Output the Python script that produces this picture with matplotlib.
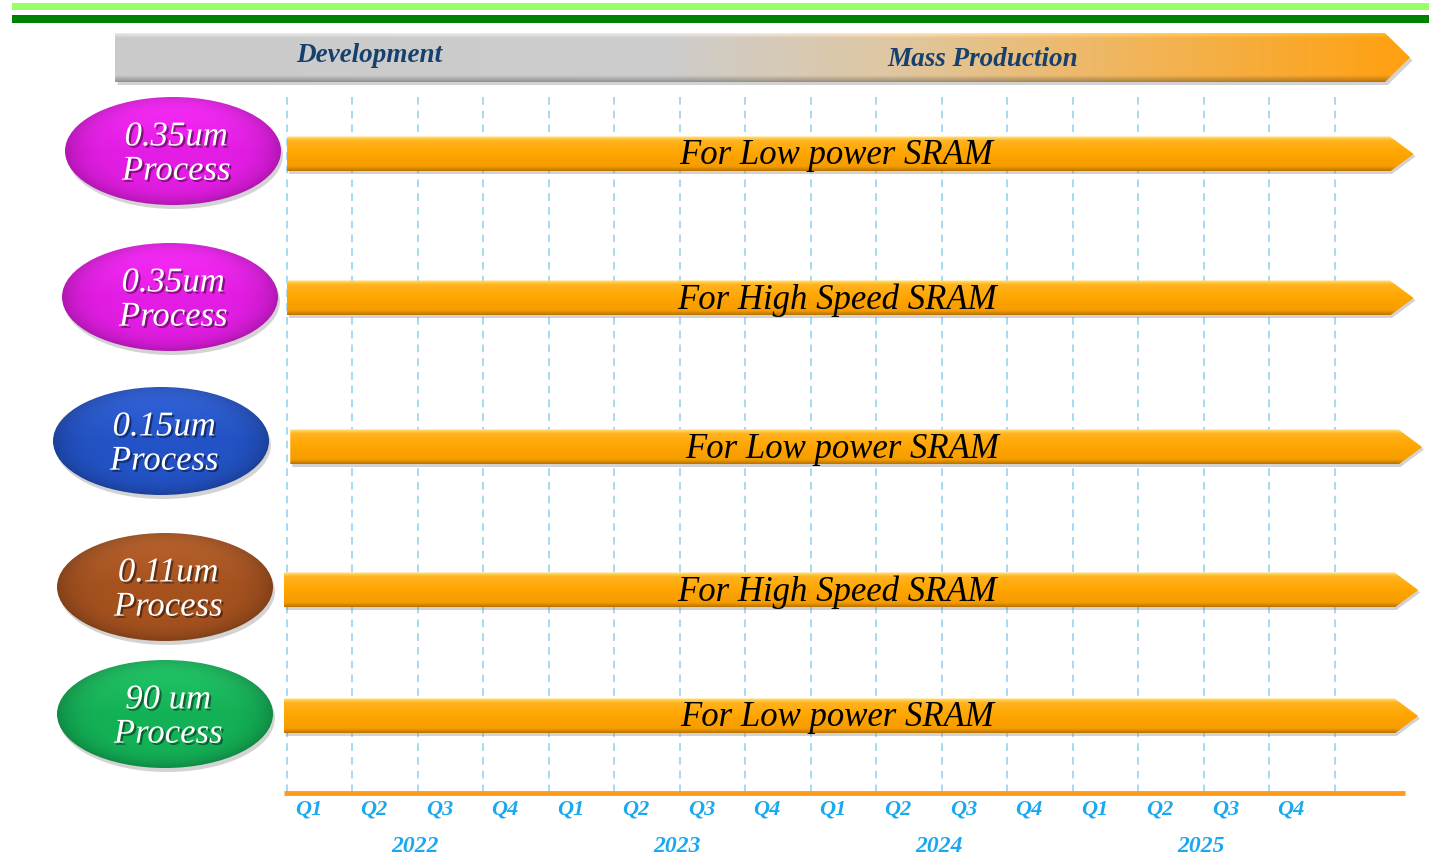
import numpy as np
import matplotlib as mpl
import matplotlib.pyplot as plt
import matplotlib.patheffects as pe
from matplotlib.patches import Polygon, Ellipse, Rectangle
from matplotlib.colors import LinearSegmentedColormap, to_rgb

font_name = 'Liberation Serif'
mpl.rc('font', family=font_name)

# roadmap data
years = ['2022', '2023', '2024', '2025']
quarters = ['Q1', 'Q2', 'Q3', 'Q4']
phases = ['Development', 'Mass Production']
processes = ['0.35um\nProcess', '0.35um\nProcess', '0.15um\nProcess',
             '0.11um\nProcess', '90 um\nProcess']
targets = ['For Low power SRAM', 'For High Speed SRAM', 'For Low power SRAM',
           'For High Speed SRAM', 'For Low power SRAM']
bar_start = [0.0, 0.0, 0.05, -0.05, -0.05]     # in quarters from 2022 Q1
bar_end = [17.2, 17.2, 17.33, 17.27, 17.27]
proc_colors = ['#e41de4', '#e41de4', '#2353c6', '#a6521f', '#14b257']

# layout (x: quarters, y: pixel rows from top)
Q_PX = 65.5
X0_PX = 287.0
W, H = 1429, 858


def px(x):
    return (x - X0_PX) / Q_PX


row_y = [154, 298, 447, 590, 716]
ell_cx = [173, 170, 161, 165, 165]
ell_cy = [151, 297, 441, 587, 714]
bar_h = 35
n_q = len(years) * len(quarters)

fig = plt.figure(figsize=(W / 100, H / 100), dpi=100)
ax = fig.add_axes([0, 0, 1, 1])
ax.set_axis_off()

# top green bands
ax.add_patch(Rectangle((px(12), 3), px(W) - px(12), 7, color='#99ff66', lw=0))
ax.add_patch(Rectangle((px(12), 15), px(W) - px(12), 8, color='#008000', lw=0))

# header arrow
hx0, hx1, htip = px(115), px(1385), px(1410)
hy0, hy1 = 33, 82
hdr_pts = [(hx0, hy0), (hx1, hy0), (htip, (hy0 + hy1) / 2), (hx1, hy1), (hx0, hy1)]
shadow = Polygon([(x + 0.04, y + 3) for x, y in hdr_pts], closed=True,
                 fc='#808080', ec='none', alpha=0.35, zorder=1)
ax.add_patch(shadow)
hdr = Polygon(hdr_pts, closed=True, fc='none', ec='none', zorder=2)
ax.add_patch(hdr)
hcmap = LinearSegmentedColormap.from_list('hdr', [
    (0.0, '#cacaca'), (0.42, '#cdcdcd'), (0.6, '#dfc7a2'),
    (0.8, '#f2b456'), (1.0, '#ffa010')])
hgrad = hcmap(np.linspace(0, 1, 256))[None, :, :3]
vshade = np.concatenate([np.linspace(1.15, 1.0, 6), np.ones(40), np.linspace(1.0, 0.72, 8)])
himg = np.clip(hgrad * vshade[:, None, None], 0, 1)
im = ax.imshow(himg, extent=(hx0, htip, hy1, hy0), aspect='auto', zorder=2,
               interpolation='bilinear')
im.set_clip_path(hdr)
ax.text(px(369), 56, phases[0], fontsize=19.5, fontweight='bold', fontstyle='italic',
        color='#16406e', ha='center', va='center', zorder=5)
ax.text(px(983), 59, phases[1], fontsize=19.5, fontweight='bold', fontstyle='italic',
        color='#16406e', ha='center', va='center', zorder=5)

# quarter gridlines
ax.vlines(np.arange(n_q + 1), 97, 793, colors='#8fd0f0', linestyles=(0, (5, 4)),
          lw=1.1, zorder=1)
# time axis
ax.hlines(793, -0.05, 17.07, colors='#ff9a1a', lw=3.5, zorder=3)
for i in range(n_q):
    ax.text(i + 0.33, 810, quarters[i % 4], fontsize=16, fontweight='bold',
            fontstyle='italic', color='#1aa8f0', ha='center', va='center')
for k, yr in enumerate(years):
    ax.text(4 * k + 1.95, 846, yr, fontsize=17, fontweight='bold',
            fontstyle='italic', color='#1aa8f0', ha='center', va='center')

# orange bars
bcmap = LinearSegmentedColormap.from_list('bar', [
    (0.0, '#ffe27a'), (0.12, '#ffb31f'), (0.5, '#ffa500'),
    (0.88, '#f59c00'), (1.0, '#b87400')])
bimg = bcmap(np.linspace(0, 1, 64))[:, None, :3]
tip_len = 0.36
for i, y in enumerate(row_y):
    x0, x1 = bar_start[i], bar_end[i]
    yt, yb = y - bar_h / 2, y + bar_h / 2
    pts = [(x0, yt), (x1 - tip_len, yt), (x1, y), (x1 - tip_len, yb), (x0, yb)]
    ax.add_patch(Polygon([(a + 0.03, b + 2.5) for a, b in pts], closed=True,
                         fc='#7f7f7f', ec='none', alpha=0.35, zorder=3))
    poly = Polygon(pts, closed=True, fc='none', ec='none', zorder=4)
    ax.add_patch(poly)
    bi = ax.imshow(bimg, extent=(x0, x1, yb, yt), aspect='auto', zorder=4,
                   interpolation='bilinear')
    bi.set_clip_path(poly)
    ax.text((x0 + x1 - tip_len) / 2 - 0.03, y + 2, targets[i], fontsize=25,
            fontstyle='italic', color='black', ha='center', va='center', zorder=6)

# process ellipses
ew, eh = 216 / Q_PX, 108
gu, gv = np.meshgrid(np.linspace(-1, 1, 200), np.linspace(-1, 1, 120))
rr = np.sqrt(gu ** 2 + gv ** 2)
shade = 1.0 - 0.22 * np.clip(rr, 0, 1) ** 6 + 0.08 * np.clip(-gv, 0, 1) ** 2
for i in range(len(processes)):
    cx, cy = px(ell_cx[i]), ell_cy[i]
    ax.add_patch(Ellipse((cx + 0.03, cy + 4), ew, eh, fc='#707070', ec='none',
                         alpha=0.3, zorder=3))
    ell = Ellipse((cx, cy), ew, eh, fc='none', ec='none', zorder=4)
    ax.add_patch(ell)
    base = np.array(to_rgb(proc_colors[i]))
    eimg = np.clip(base[None, None, :] * shade[:, :, None]
                   + 0.06 * np.clip(-gv, 0, 1)[:, :, None], 0, 1)
    ei = ax.imshow(eimg, extent=(cx - ew / 2, cx + ew / 2, cy + eh / 2, cy - eh / 2),
                   aspect='auto', zorder=4, interpolation='bilinear')
    ei.set_clip_path(ell)
    ax.text(cx + 0.05, cy + 3, processes[i], fontsize=25, fontstyle='italic',
            color='white', ha='center', va='center', linespacing=1.05, zorder=6,
            path_effects=[pe.SimplePatchShadow(offset=(1.5, -1.5), shadow_rgbFace='k',
                                               alpha=0.45), pe.Normal()])

ax.set_xlim(px(0), px(W))
ax.set_ylim(H, 0)

fig.savefig('out.png', dpi=100)
